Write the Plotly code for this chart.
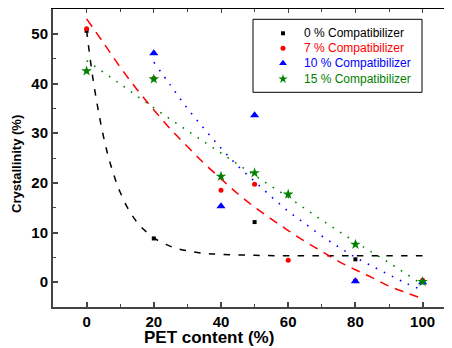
import plotly.graph_objects as go

# ---------------- data ----------------
series_names = ["0 % Compatibilizer", "7 % Compatibilizer",
                "10 % Compatibilizer", "15 % Compatibilizer"]
series_colors = ["#000000", "#FF0000", "#0000FF", "#008000"]

c0_x = [0, 20, 50, 80, 100]
c0_y = [50.6, 8.8, 12.1, 4.6, 0.0]

c7_x = [0, 20, 40, 50, 60, 80, 100]
c7_y = [51.0, 41.0, 18.5, 19.7, 4.4, 0.3, 0.4]

c10_x = [20, 40, 50, 80, 100]
c10_y = [46.1, 15.3, 33.6, 0.2, 0.0]

c15_x = [0, 20, 40, 50, 60, 80, 100]
c15_y = [42.5, 40.9, 21.3, 22.0, 17.7, 7.6, 0.1]

# fitted curves as traced on the picture
fit0_x = [0, 1, 2, 3, 4, 5, 6, 7, 8, 9, 10, 12, 14, 16, 18, 20, 25, 30, 35, 40, 50, 60, 70, 80, 90, 100]
fit0_y = [50.7, 45.3, 40.5, 36.4, 32.7, 29.4, 26.5, 24.0, 21.8, 19.8, 18.1, 15.2, 13.0, 11.3, 10.0,
          8.9, 7.2, 6.3, 5.8, 5.6, 5.4, 5.3, 5.3, 5.3, 5.3, 5.3]

fit7_x = [0, 5, 10, 15, 20, 25, 30, 35, 40, 45, 50, 55, 60, 65, 70, 75, 80, 85, 90, 95, 100]
fit7_y = [53.0, 48.2, 43.3, 38.8, 34.7, 30.8, 27.3, 23.9, 20.8, 17.8, 15.1, 12.7, 10.4, 8.2,
          6.2, 4.2, 2.5, 0.9, -0.8, -2.1, -3.3]

fit10_x = [20, 25, 30, 35, 40, 45, 50, 55, 60, 65, 70, 75, 80, 85, 90, 95, 100]
fit10_y = [44.3, 39.6, 35.0, 30.9, 27.0, 23.4, 20.3, 17.2, 14.3, 11.8, 9.3, 7.1, 5.0, 3.2, 1.5, -0.2, -1.6]

fit15_x = [0, 10, 20, 30, 40, 50, 60, 70, 80, 90, 100]
fit15_y = [44.6, 39.9, 35.1, 30.5, 26.0, 21.5, 17.1, 12.5, 8.1, 3.9, -0.5]

x_ticks = [0, 20, 40, 60, 80, 100]
y_ticks = [0, 10, 20, 30, 40, 50]

# ---------------- geometry (page pixels; the html body adds an 8px margin) ----------------
FONT = "Liberation Sans, Arial, sans-serif"
OFF = 8
W, H = 452 - OFF, 348 - OFF
PL, PT, PB = 53, 9, 307          # plot-area edges in page pixels
ML, MT, MR = PL - OFF, PT - OFF, 0
MB = H - (PB - OFF)
PW, PH = W - ML - MR, H - MT - MB


def px_x(px):
    return (px - PL) / PW


def px_y(py):
    return (PB - py) / PH


fig = go.Figure()

# fit lines
fig.add_trace(go.Scatter(x=fit0_x, y=fit0_y, mode="lines", line=dict(color="#000000", width=1.5, dash="6.5px,8.3px"),
                         line_shape="spline", hoverinfo="skip", showlegend=False))
fig.add_trace(go.Scatter(x=fit7_x, y=fit7_y, mode="lines", line=dict(color="#FF0000", width=1.5, dash="9px,7px"),
                         line_shape="spline", hoverinfo="skip", showlegend=False))
fig.add_trace(go.Scatter(x=fit10_x, y=fit10_y, mode="lines", line=dict(color="#0000FF", width=1.6, dash="1.6px,7.4px"),
                         line_shape="spline", hoverinfo="skip", showlegend=False))
fig.add_trace(go.Scatter(x=fit15_x, y=fit15_y, mode="lines", line=dict(color="#008000", width=1.6, dash="1.6px,7.4px"),
                         line_shape="spline", hoverinfo="skip", showlegend=False))

# data points
marker_specs = [
    (c0_x, c0_y, "square", 4),
    (c7_x, c7_y, "circle", 5),
    (c10_x, c10_y, "triangle-up", 8),
    (c15_x, c15_y, "star", 8),
]
for (xs, ys, sym, sz), col, name in zip(marker_specs, series_colors, series_names):
    fig.add_trace(go.Scatter(x=xs, y=ys, mode="markers", name=name,
                             marker=dict(symbol=sym, size=sz, color=col, line=dict(width=0)),
                             showlegend=False))

# custom legend (markers on an overlay unit axis, text as annotations)
leg_rows_px = [33.3, 48.3, 63.3, 79.0]
leg_sizes = [4, 5, 7, 7]
for (xs, ys, sym, sz), col, name, ypx, lsz in zip(marker_specs, series_colors, series_names, leg_rows_px, leg_sizes):
    yp = px_y(ypx)
    fig.add_trace(go.Scatter(x=[px_x(283)], y=[yp], mode="markers", xaxis="x3", yaxis="y3",
                             marker=dict(symbol=sym, size=lsz, color=col, line=dict(width=0)),
                             hoverinfo="skip", showlegend=False))
    fig.add_annotation(x=px_x(302), y=yp, xref="paper", yref="paper", text=name, showarrow=False,
                       xanchor="left", yanchor="middle", font=dict(family=FONT, size=12, color=col))

# dummy trace to activate the top mirrored axis
fig.add_trace(go.Scatter(x=[None], y=[None], xaxis="x2", yaxis="y", showlegend=False, hoverinfo="skip"))

AX = "#444444"
common_x = dict(range=[-10, -10 + PW / 3.36], showgrid=False, zeroline=False)
fig.update_layout(
    width=W, height=H,
    margin=dict(l=ML, r=MR, t=MT, b=MB, pad=0),
    paper_bgcolor="white", plot_bgcolor="white",
    showlegend=False,
    xaxis=dict(**common_x, showline=True, linecolor=AX, linewidth=2,
               ticks="inside", ticklen=5, tickwidth=1.5, tickcolor=AX,
               tickvals=x_ticks, ticktext=[str(v) for v in x_ticks],
               minor=dict(ticks="inside", ticklen=3, tickwidth=1.2, tickcolor=AX, dtick=10, tick0=0),
               tickfont=dict(family=FONT, size=15, color="#000000", weight="bold")),
    xaxis2=dict(**common_x, overlaying="x", side="top", showline=True, linecolor="#000000", linewidth=1.5,
                ticks="inside", ticklen=4, tickwidth=1.2, tickcolor=AX, tickvals=x_ticks,
                minor=dict(ticks="inside", ticklen=3, tickwidth=1.2, tickcolor=AX, dtick=10, tick0=0),
                showticklabels=False),
    yaxis=dict(range=[-5, 55], showgrid=False, zeroline=False, showline=True, linecolor=AX, linewidth=2,
               ticks="inside", ticklen=5, tickwidth=1.5, tickcolor=AX,
               tickvals=y_ticks, ticktext=[str(v) for v in y_ticks],
               minor=dict(ticks="inside", ticklen=3, tickwidth=1.2, tickcolor=AX, dtick=5, tick0=0),
               tickfont=dict(family=FONT, size=15, color="#000000", weight="bold")),
    xaxis3=dict(range=[0, 1], overlaying="x", visible=False),
    yaxis3=dict(range=[0, 1], overlaying="y", visible=False),
)

# legend frame
fig.add_shape(type="rect", xref="paper", yref="paper",
              x0=px_x(253), x1=px_x(422), y0=px_y(92.3), y1=px_y(19.3),
              line=dict(color="#000000", width=1), fillcolor="rgba(0,0,0,0)")

# axis titles
fig.add_annotation(x=px_x(209), y=px_y(337), xref="paper", yref="paper",
                   text="PET content (%)", showarrow=False, xanchor="center", yanchor="middle",
                   font=dict(family=FONT, size=17, color="#000000", weight="bold"))
fig.add_annotation(x=px_x(16), y=px_y(164), xref="paper", yref="paper",
                   text="Crystallinity (%)", showarrow=False, textangle=-90, xanchor="center", yanchor="middle",
                   font=dict(family=FONT, size=13, color="#000000", weight="bold"))

fig.write_html("out.html")
